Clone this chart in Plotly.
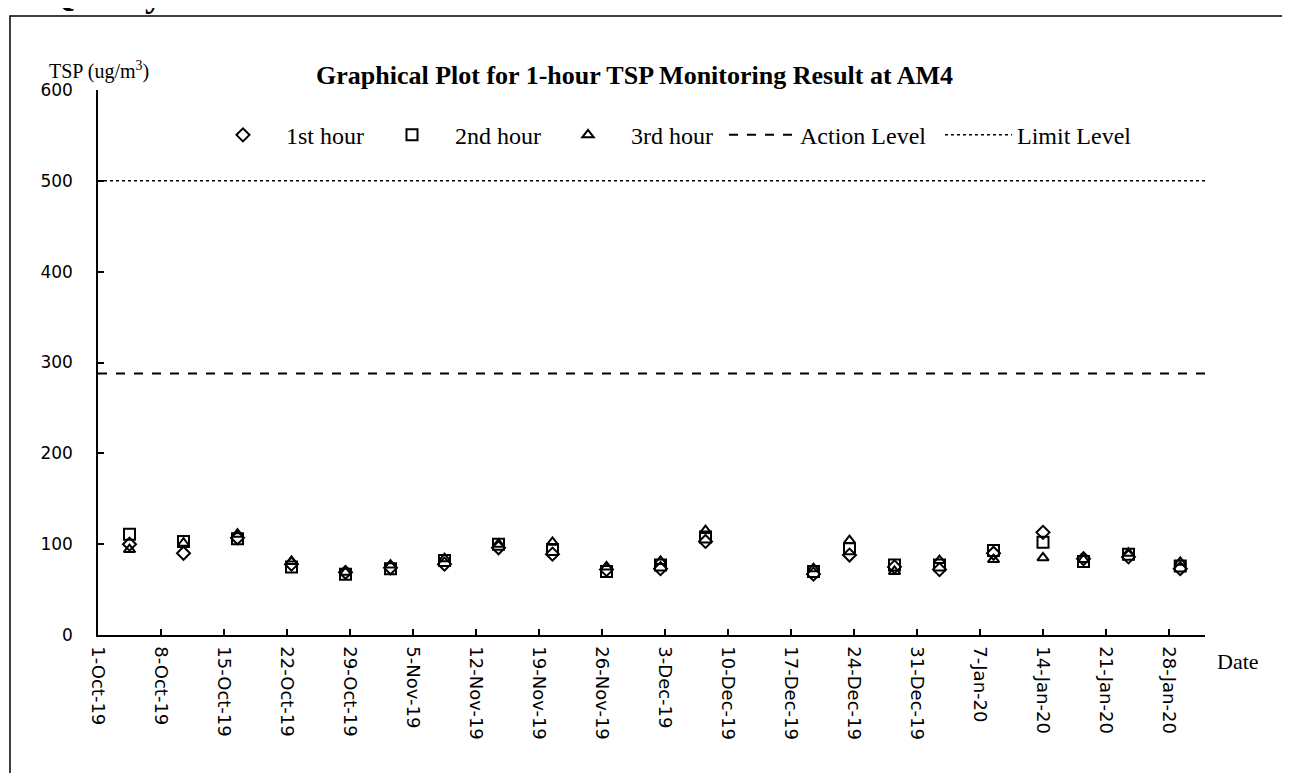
import plotly.graph_objects as go

dates = ["2019-10-04 12:00", "2019-10-10 12:00", "2019-10-16 12:00", "2019-10-22 12:00",
         "2019-10-28 12:00", "2019-11-02 12:00", "2019-11-08 12:00", "2019-11-14 12:00",
         "2019-11-20 12:00", "2019-11-26 12:00", "2019-12-02 12:00", "2019-12-07 12:00",
         "2019-12-19 12:00", "2019-12-23 12:00", "2019-12-28 12:00", "2020-01-02 12:00",
         "2020-01-08 12:00", "2020-01-14 00:00", "2020-01-18 12:00", "2020-01-23 12:00",
         "2020-01-29 06:00"]
hour1 = [100, 90, 107, 78, 69, 74, 78, 96, 89, 72, 73, 103, 67, 88, 75, 72, 90, 113, 84, 86, 73]
hour2 = [111, 103, 106, 75, 67, 73, 82, 100, 94, 70, 77, 108, 70, 95, 77, 77, 93, 102, 81, 89, 76]
hour3 = [94, 101, 111, 81, 69, 77, 84, 100, 102, 75, 81, 115, 73, 104, 70, 82, 83, 85, 83, 90, 80]
action_level = 288
limit_level = 500
x_range = ["2019-10-01", "2020-02-01"]
tick_dates = ["2019-10-01", "2019-10-08", "2019-10-15", "2019-10-22", "2019-10-29",
              "2019-11-05", "2019-11-12", "2019-11-19", "2019-11-26", "2019-12-03",
              "2019-12-10", "2019-12-17", "2019-12-24", "2019-12-31", "2020-01-07",
              "2020-01-14", "2020-01-21", "2020-01-28"]
tick_labels = ["1-Oct-19", "8-Oct-19", "15-Oct-19", "22-Oct-19", "29-Oct-19",
               "5-Nov-19", "12-Nov-19", "19-Nov-19", "26-Nov-19", "3-Dec-19",
               "10-Dec-19", "17-Dec-19", "24-Dec-19", "31-Dec-19", "7-Jan-20",
               "14-Jan-20", "21-Jan-20", "28-Jan-20"]

serif = "Liberation Serif, Times New Roman, serif"
sans = "DejaVu Sans, Verdana, sans-serif"

fig = go.Figure()
fig.add_trace(go.Scatter(x=dates, y=hour1, mode="markers", name="1st hour", legend="legend",
                         marker=dict(symbol="diamond-open", size=10, color="black",
                                     line=dict(width=2, color="black"))))
fig.add_trace(go.Scatter(x=dates, y=hour2, mode="markers", name="2nd hour", legend="legend2",
                         marker=dict(symbol="square-open", size=11, color="black",
                                     line=dict(width=2, color="black"))))
fig.add_trace(go.Scatter(x=dates, y=hour3, mode="markers", name="3rd hour", legend="legend3",
                         marker=dict(symbol="triangle-up-open", size=10, color="black",
                                     line=dict(width=2, color="black"))))
fig.add_trace(go.Scatter(x=x_range, y=[action_level, action_level], mode="lines",
                         name="Action Level", legend="legend4",
                         line=dict(color="black", width=2, dash="dash")))
fig.add_trace(go.Scatter(x=x_range, y=[limit_level, limit_level], mode="lines",
                         name="Limit Level", legend="legend5",
                         line=dict(color="black", width=1.5, dash="dot")))


def leg(x, w):
    return dict(orientation="h", x=x, y=0.917, xanchor="left", yanchor="middle",
                font=dict(family=serif, size=24, color="black"),
                bgcolor="rgba(0,0,0,0)", itemwidth=w, borderwidth=0)


fig.update_layout(
    width=1290, height=773,
    margin=dict(l=90, r=93, t=82, b=146),
    paper_bgcolor="white", plot_bgcolor="white",
    showlegend=True,
    legend=leg(0.0921, 76),
    legend2=leg(0.2448, 76),
    legend3=leg(0.4038, 76),
    legend4=leg(0.5655, 66),
    legend5=leg(0.7606, 67),
    xaxis=dict(type="date", range=x_range, tickmode="array", tickvals=tick_dates,
               ticktext=tick_labels, tickangle=90, ticks="inside", ticklen=6,
               tickcolor="black", tickwidth=1.5, showline=True, linecolor="black",
               linewidth=1.5, showgrid=False, zeroline=False, ticklabelstandoff=6,
               tickfont=dict(family=sans, size=18, color="black")),
    yaxis=dict(range=[0, 600], tickmode="array", tickvals=[0, 100, 200, 300, 400, 500, 600],
               ticks="inside", ticklen=6, tickcolor="black", tickwidth=1.5,
               showline=True, linecolor="black", linewidth=1.5, showgrid=False,
               zeroline=False, ticklabelstandoff=20,
               tickfont=dict(family=sans, size=17, color="black")),
    shapes=[dict(type="rect", xref="paper", yref="paper",
                 x0=-0.0795, x1=1.0705, y0=-0.4, y1=1.136, line=dict(color="black", width=1.5))],
    annotations=[
        dict(text="<b>Graphical Plot for 1-hour TSP Monitoring Result at AM4</b>",
             xref="paper", yref="paper", x=0.485, y=1.027, xanchor="center", yanchor="middle",
             showarrow=False, font=dict(family=serif, size=26, color="black")),
        dict(text="TSP (ug/m<sup>3</sup>)", xref="paper", yref="paper", x=-0.046, y=1.035,
             xanchor="left", yanchor="middle", showarrow=False,
             font=dict(family=serif, size=20, color="black")),
        dict(text="Date", xref="paper", yref="paper", x=1.009, y=-0.0495,
             xanchor="left", yanchor="middle", showarrow=False,
             font=dict(family=serif, size=22, color="black")),
        dict(text="<b>Quality</b>", xref="paper", yref="paper", x=-0.048, y=1.136,
             xanchor="left", yanchor="bottom", showarrow=False,
             font=dict(family=serif, size=36, color="black")),
    ],
)

fig.write_html("out.html")
